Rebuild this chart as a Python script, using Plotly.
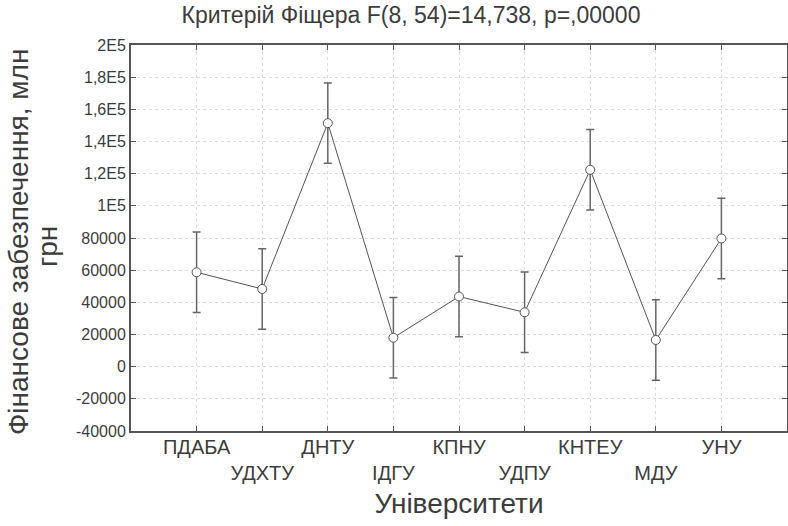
import plotly.graph_objects as go

categories = ["ПДАБА", "УДХТУ", "ДНТУ", "ІДГУ", "КПНУ", "УДПУ", "КНТЕУ", "МДУ", "УНУ"]
positions = [1, 2, 3, 4, 5, 6, 7, 8, 9]
means = [58700, 48300, 151400, 18000, 43600, 33800, 122400, 16600, 79700]
errors = [25000, 25000, 25000, 25000, 25000, 25000, 25000, 25000, 25000]

y_tickvals = [200000, 180000, 160000, 140000, 120000, 100000, 80000, 60000, 40000, 20000, 0, -20000, -40000]
y_ticktext = ["2E5", "1,8E5", "1,6E5", "1,4E5", "1,2E5", "1E5", "80000", "60000", "40000", "20000", "0", "-20000", "-40000"]

title_text = "Критерій Фіщера F(8, 54)=14,738, p=,00000"
x_title = "Університети"
y_title_lines = ["Фінансове забезпечення, млн", "грн"]

x_ticktext = [c if i % 2 == 0 else "<br>" + c for i, c in enumerate(categories)]

FONT = "Liberation Sans, Arial, sans-serif"
TXT = "#3c3c3c"
LINE = "#555555"

W, H = 788, 526
L, R, T, B = 131, 1, 45, 95

fig = go.Figure()
fig.add_trace(go.Scatter(
    x=positions, y=means,
    mode="lines+markers",
    line=dict(color=LINE, width=1),
    marker=dict(symbol="circle", size=9, color="white", line=dict(color=LINE, width=1)),
    error_y=dict(type="data", array=errors, visible=True, color="#666666", thickness=1.5, width=4),
    showlegend=False,
))

fig.update_layout(
    width=W, height=H,
    margin=dict(l=L, r=R, t=T, b=B, autoexpand=False),
    paper_bgcolor="white", plot_bgcolor="white",
    font=dict(family=FONT, color=TXT),
    title=dict(text=title_text, x=411 / W, xanchor="center",
               y=1 - 15 / H, yanchor="middle", yref="container", xref="container",
               font=dict(size=23, color=TXT, family=FONT)),
)

fig.update_xaxes(
    range=[0, 10], tickmode="array", tickvals=positions, ticktext=x_ticktext,
    tickfont=dict(size=20, color=TXT, family=FONT), tickangle=0, ticklabelstandoff=-3,
    ticks="inside", ticklen=5, tickcolor=LINE,
    showline=True, linecolor=LINE, linewidth=2, mirror="ticks",
    showgrid=True, gridcolor="#dcdcdc", griddash="dot", gridwidth=1,
    zeroline=False, automargin=False,
    title=dict(text=x_title, font=dict(size=28, color=TXT, family=FONT), standoff=10),
)
fig.update_yaxes(
    range=[-40000, 200000], tickmode="array", tickvals=y_tickvals, ticktext=y_ticktext,
    tickfont=dict(size=16, color=TXT, family=FONT), tickangle=0,
    ticks="inside", ticklen=5, tickcolor=LINE,
    showline=True, linecolor=LINE, linewidth=2, mirror="ticks",
    showgrid=True, gridcolor="#dcdcdc", griddash="dot", gridwidth=1,
    zeroline=False, automargin=False,
)

plot_h = H - T - B
for text, cx, cy in [(y_title_lines[0], 18, 242), (y_title_lines[1], 47, 247)]:
    fig.add_annotation(
        text=text, textangle=-90, showarrow=False,
        xref="paper", yref="paper", x=0, y=(H - B - cy) / plot_h,
        xanchor="center", yanchor="middle", xshift=cx - L,
        font=dict(size=28, color=TXT, family=FONT),
    )

fig.write_html("out.html", config={"displayModeBar": False},
               post_script="document.body.style.margin='0px';document.body.style.padding='0px';")
